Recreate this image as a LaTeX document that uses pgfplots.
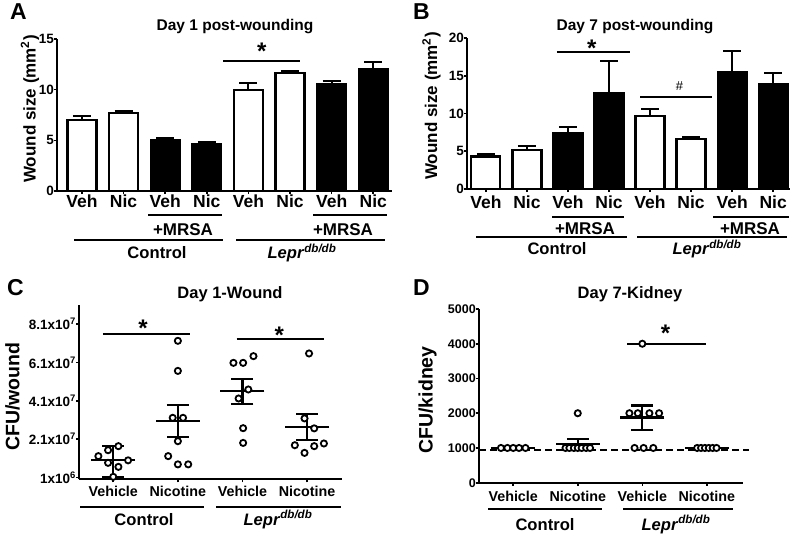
\documentclass[border=0pt]{standalone}
\usepackage{fontspec}
\setmainfont{Liberation Sans}
\usepackage{pgfplots}
\pgfplotsset{compat=1.18}
\newcommand{\fs}[1]{\fontsize{#1}{#1}\selectfont\bfseries}
\newcommand{\lepr}{\textit{Lepr}\textsuperscript{\textit{db/db}}}
\tikzset{
  sigstar/.style={font=\fs{24}, anchor=north, inner sep=0pt},
  lab/.style={anchor=base, inner sep=0pt},
}
\pgfplotsset{
  gp/.style={
    scale only axis, anchor=south west, clip=false,
    axis x line*=bottom, axis y line*=left,
    axis line style={line width=2pt, black},
    tick align=outside, major tick length=3pt,
    every tick/.style={line width=1.6pt, black},
    /pgf/number format/assume math mode=true,
    xticklabel style={inner sep=0pt, anchor=base},
    yticklabel style={inner sep=0pt, anchor=east, xshift=0pt},
  },
  wbar/.style={ybar, bar width=29pt, bar shift=0pt, fill=white, draw=black, line width=2.2pt,
    error bars/y dir=plus, error bars/y explicit,
    error bars/error bar style={line width=2pt, black},
    error bars/error mark options={rotate=90, mark size=9pt, line width=2pt, black}},
  bbar/.style={wbar, fill=black},
  meanbar/.style={black, only marks, mark=-, mark size=22pt, mark options={line width=2.2pt, black},
    error bars/y dir=both, error bars/y explicit,
    error bars/error bar style={line width=2.2pt, black},
    error bars/error mark options={rotate=90, mark size=11pt, line width=2.2pt, black}},
  pts/.style={only marks, mark=*, mark size=3.1pt, mark options={fill=white, draw=black, line width=1.8pt}},
}
\begin{document}
\begin{tikzpicture}[x=1pt,y=1pt]
\useasboundingbox (0pt,0pt) rectangle (800pt,539pt);

% ---------------- Panel A
\begin{axis}[gp, at={(57pt,348pt)}, width=335pt, height=152pt,
  xmin=-0.6, xmax=7.45, ymin=0, ymax=15, ytick={0,5,10,15},
  xtick={0,...,7}, xticklabels={Veh,Nic,Veh,Nic,Veh,Nic,Veh,Nic},
  xticklabel style={font=\fs{17.5}, yshift=-13.3pt},
  yticklabel style={font=\fs{13.5}}]
\addplot[wbar] coordinates {(0,6.99) +- (0,0.40) (1,7.71) +- (0,0.17) (4,9.96) +- (0,0.66) (5,11.67) +- (0,0.20)};
\addplot[bbar] coordinates {(2,5.01) +- (0,0.23) (3,4.62) +- (0,0.26) (6,10.55) +- (0,0.33) (7,12.00) +- (0,0.73)};
\draw[line width=2pt] (axis cs:3.39,12.86) -- (axis cs:5.24,12.86);
\node[sigstar] at (axis cs:4.32,14.58) {*};
\end{axis}

% ---------------- Panel B
\begin{axis}[gp, at={(467pt,350pt)}, width=323pt, height=151pt,
  xmin=-0.46, xmax=7.41, ymin=0, ymax=20, ytick={0,5,10,15,20},
  xtick={0,...,7}, xticklabels={Veh,Nic,Veh,Nic,Veh,Nic,Veh,Nic},
  xticklabel style={font=\fs{17.5}, yshift=-16.3pt},
  yticklabel style={font=\fs{13.5}}]
\addplot[wbar] coordinates {(0,4.31) +- (0,0.35) (1,5.19) +- (0,0.44) (4,9.67) +- (0,0.88) (5,6.59) +- (0,0.36)};
\addplot[bbar] coordinates {(2,7.38) +- (0,0.80) (3,12.66) +- (0,4.31) (6,15.52) +- (0,2.72) (7,13.85) +- (0,1.53)};
\draw[line width=2pt] (axis cs:1.73,18.2) -- (axis cs:3.51,18.2);
\node[sigstar] at (axis cs:2.58,19.73) {*};
\draw[line width=2pt] (axis cs:3.76,12.15) -- (axis cs:5.51,12.15);
\node[anchor=north, inner sep=0pt, font=\fontsize{13}{13}\selectfont] at (axis cs:4.72,14.2) {\#};
\end{axis}

% ---------------- Panel C
\begin{axis}[gp, at={(79pt,59.7pt)}, width=263pt, height=174.3pt,
  xmin=-0.53, xmax=3.54, ymin=0, ymax=9.1,
  ytick={0.1,2.1,4.1,6.1,8.1},
  yticklabels={1x10\textsuperscript{6},2.1x10\textsuperscript{7},4.1x10\textsuperscript{7},6.1x10\textsuperscript{7},8.1x10\textsuperscript{7}},
  xtick={0,1,2,3}, xticklabels={Vehicle,Nicotine,Vehicle,Nicotine},
  xticklabel style={font=\fs{14.3}, yshift=-14.4pt},
  yticklabel style={font=\fs{13.5}}]
\addplot[meanbar] coordinates {(0,1.0) += (0,0.73) -= (0,0.87) (1,3.04) +- (0,0.84) (2,4.59) +- (0,0.66) (3,2.74) +- (0,0.67)};
\addplot[pts] coordinates {(-0.23,1.21) (-0.08,1.52) (0.08,1.73) (0.23,0.99) (-0.08,0.86) (0.08,0.65) (0,0.13)
 (1,7.23) (1,5.66) (0.92,3.21) (1.08,3.21) (1,1.99) (0.85,1.21) (1,0.78) (1.16,0.78)
 (1.86,6.08) (2.01,6.08) (2.17,6.43) (2.09,4.69) (1.94,4.22) (2.01,2.67) (2.01,1.90)
 (3.03,6.57) (2.96,3.18) (3.11,2.66) (2.81,1.78) (3.11,1.73) (3.26,1.87) (2.96,1.38)};
\draw[line width=2pt] (axis cs:-0.16,7.58) -- (axis cs:1.18,7.58);
\node[sigstar] at (axis cs:0.46,8.31) {*};
\draw[line width=2pt] (axis cs:1.91,7.31) -- (axis cs:3.26,7.31);
\node[sigstar] at (axis cs:2.57,7.94) {*};
\end{axis}

% ---------------- Panel D
\begin{axis}[gp, at={(479pt,56.3pt)}, width=264pt, height=173.7pt,
  xmin=-0.53, xmax=3.56, ymin=0, ymax=5000,
  ytick={0,1000,2000,3000,4000,5000}, yticklabels={0,1000,2000,3000,4000,5000},
  xtick={0,1,2,3}, xticklabels={Vehicle,Nicotine,Vehicle,Nicotine},
  xticklabel style={font=\fs{14.3}, yshift=-16pt},
  yticklabel style={font=\fs{12.5}}]
\addplot[dash pattern=on 7pt off 4pt, line width=2pt] coordinates {(-0.53,940) (3.66,940)};
\addplot[meanbar] coordinates {(0,1000) +- (0,0) (1,1125) +- (0,125) (2,1875) +- (0,350) (3,1000) +- (0,0)};
\addplot[pts] coordinates {(-0.19,1000) (-0.09,1000) (0,1000) (0.09,1000) (0.19,1000)
 (0.81,1000) (0.87,1000) (0.94,1000) (1,1000) (1.06,1000) (1.13,1000) (1.19,1000) (1,2000)
 (2,4000) (1.80,2000) (1.93,2000) (2.11,2000) (2.26,2000) (1.88,1000) (2.02,1000) (2.17,1000)
 (2.85,1000) (2.91,1000) (2.97,1000) (3.03,1000) (3.09,1000) (3.15,1000)};
\draw[line width=2pt] (axis cs:1.77,4000) -- (axis cs:2.99,4000);
\node[sigstar] at (axis cs:2.36,4545) {*};
\end{axis}

% ---------------- texts and group lines
\begin{scope}[line width=2.2pt]
% A
\node[lab, anchor=base west, font=\fs{23}] at (9pt,519pt) {A};
\node[lab, font=\fs{15.5}] at (235pt,508.3pt) {Day 1 post-wounding};
\node[lab, rotate=90, font=\fs{17}] at (35.5pt,430pt) {Wound size (mm\textsuperscript{2})};
\draw (148pt,324pt) -- (222pt,324pt); \draw (313pt,324pt) -- (387pt,324pt);
\node[lab, font=\fs{17}] at (183pt,304pt) {+MRSA};
\node[lab, font=\fs{17}] at (343pt,304pt) {+MRSA};
\draw (74pt,299pt) -- (223pt,299pt); \draw (236pt,299pt) -- (385pt,299pt);
\node[lab, font=\fs{16.6}] at (157pt,280.7pt) {Control};
\node[lab, font=\fs{16.6}] at (302pt,280.7pt) {\lepr};
% B
\node[lab, anchor=base west, font=\fs{23}] at (412pt,519pt) {B};
\node[lab, font=\fs{15.5}] at (635pt,508.3pt) {Day 7 post-wounding};
\node[lab, rotate=90, font=\fs{17}] at (437pt,433pt) {Wound size (mm\textsuperscript{2})};
\draw (552pt,322pt) -- (624pt,322pt); \draw (713pt,322pt) -- (789pt,322pt);
\node[lab, font=\fs{17}] at (585pt,304.7pt) {+MRSA};
\node[lab, font=\fs{17}] at (750pt,304.7pt) {+MRSA};
\draw (476pt,302pt) -- (627pt,302pt); \draw (637pt,302pt) -- (787pt,302pt);
\node[lab, font=\fs{16.6}] at (557pt,284.7pt) {Control};
\node[lab, font=\fs{16.6}] at (707pt,284.7pt) {\lepr};
% C
\node[lab, anchor=base west, font=\fs{23}] at (6pt,244pt) {C};
\node[lab, font=\fs{16.5}] at (230pt,240.7pt) {Day 1-Wound};
\node[lab, rotate=90, font=\fs{19.5}] at (19.3pt,142.3pt) {CFU/wound};
\draw (80pt,32pt) -- (204pt,32pt); \draw (216pt,32pt) -- (341pt,32pt);
\node[lab, font=\fs{16.6}] at (144pt,14pt) {Control};
\node[lab, font=\fs{16.6}] at (278pt,14pt) {\lepr};
% D
\node[lab, anchor=base west, font=\fs{23}] at (412pt,244pt) {D};
\node[lab, font=\fs{16.5}] at (630pt,240.7pt) {Day 7-Kidney};
\node[lab, rotate=90, font=\fs{19.5}] at (432.7pt,139pt) {CFU/kidney};
\draw (488pt,30pt) -- (602pt,30pt); \draw (623pt,30pt) -- (733pt,30pt);
\node[lab, font=\fs{16.6}] at (545pt,9pt) {Control};
\node[lab, font=\fs{16.6}] at (676pt,9pt) {\lepr};
\end{scope}
\end{tikzpicture}
\end{document}
